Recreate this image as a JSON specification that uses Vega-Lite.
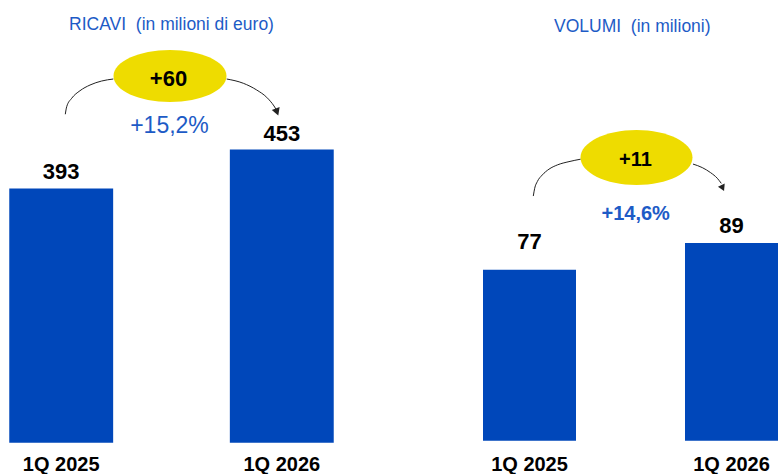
{
  "$schema": "https://vega.github.io/schema/vega-lite/v6.json",
  "padding": 0,
  "background": "white",
  "config": {"view": {"stroke": null}, "font": "Liberation Sans"},
  "datasets": {
    "ricavi": [
      {"period": "1Q 2025", "value": 393},
      {"period": "1Q 2026", "value": 453}
    ],
    "volumi": [
      {"period": "1Q 2025", "value": 77},
      {"period": "1Q 2026", "value": 89}
    ],
    "ricavi_arc": [
      {"seg": "a", "u": 0.0186, "v": 507.6},
      {"seg": "a", "u": 0.0249, "v": 519.3},
      {"seg": "a", "u": 0.0476, "v": 532.3},
      {"seg": "a", "u": 0.0852, "v": 544.0},
      {"seg": "a", "u": 0.1306, "v": 552.8},
      {"seg": "a", "u": 0.1836, "v": 559.0},
      {"seg": "a", "u": 0.2362, "v": 562.1},
      {"seg": "b", "u": 0.7502, "v": 562.1},
      {"seg": "b", "u": 0.8255, "v": 555.5},
      {"seg": "b", "u": 0.8862, "v": 545.1},
      {"seg": "b", "u": 0.9315, "v": 533.8},
      {"seg": "b", "u": 0.9646, "v": 520.4},
      {"seg": "b", "u": 0.9760, "v": 514.2}
    ],
    "volumi_arc": [
      {"seg": "a", "u": 0.0188, "v": 110.2},
      {"seg": "a", "u": 0.0257, "v": 113.7},
      {"seg": "a", "u": 0.0386, "v": 116.7},
      {"seg": "a", "u": 0.0634, "v": 119.7},
      {"seg": "a", "u": 0.0965, "v": 122.3},
      {"seg": "a", "u": 0.1376, "v": 124.2},
      {"seg": "a", "u": 0.1955, "v": 125.7},
      {"seg": "a", "u": 0.2535, "v": 126.8},
      {"seg": "b", "u": 0.8094, "v": 124.6},
      {"seg": "b", "u": 0.8554, "v": 123.0},
      {"seg": "b", "u": 0.8970, "v": 120.7},
      {"seg": "b", "u": 0.9297, "v": 118.2},
      {"seg": "b", "u": 0.9495, "v": 115.9}
    ]
  },
  "spacing": 140,
  "hconcat": [
    {
      "width": 343,
      "height": 474,
      "resolve": {"scale": {"x": "independent"}},
      "layer": [
        {
          "data": {"name": "ricavi"},
          "encoding": {
            "x": {"field": "period", "type": "nominal", "axis": null, "scale": {"paddingInner": 0.529, "paddingOuter": 0.042}},
            "y": {"field": "value", "type": "quantitative", "axis": null, "scale": {"domain": [-48.4, 684.2], "nice": false, "zero": false}}
          },
          "layer": [
            {"mark": {"type": "bar", "color": "#0047BA"}},
            {"mark": {"type": "text", "dy": -9, "baseline": "alphabetic", "align": "center", "fontSize": 22, "fontWeight": "bold", "color": "#000000"},
             "encoding": {"text": {"field": "value", "type": "quantitative"}}},
            {"mark": {"type": "text", "dy": 28.3, "baseline": "alphabetic", "align": "center", "fontSize": 20, "fontWeight": "bold", "color": "#000000", "clip": true},
             "encoding": {"y": {"datum": 0, "type": "quantitative", "scale": {"domain": [-48.4, 684.2], "nice": false, "zero": false}}, "text": {"field": "period", "type": "nominal"}}}
          ]
        },
        {
          "layer": [
            {
              "data": {"name": "ricavi_arc"},
              "mark": {"type": "line", "interpolate": "monotone", "color": "#222222", "strokeWidth": 1},
              "encoding": {
                "x": {"field": "u", "type": "quantitative", "axis": null, "scale": {"domain": [-0.2774, 1.2774], "nice": false, "zero": false}},
                "y": {"field": "v", "type": "quantitative", "axis": null, "scale": {"domain": [-48.4, 684.2], "nice": false, "zero": false}},
                "detail": {"field": "seg", "type": "nominal"}
              }
            },
            {
              "data": {"values": [{"u": 0.9782, "v": 511.1}]},
              "mark": {"type": "point", "shape": "triangle-down", "filled": true, "color": "#222222", "opacity": 1, "size": 70, "angle": -21},
              "encoding": {
                "x": {"field": "u", "type": "quantitative", "axis": null, "scale": {"domain": [-0.2774, 1.2774], "nice": false, "zero": false}},
                "y": {"field": "v", "type": "quantitative", "axis": null, "scale": {"domain": [-48.4, 684.2], "nice": false, "zero": false}}
              }
            },
            {
              "data": {"values": [{"u": 0.4932, "v": 566.8}]},
              "mark": {"type": "point", "shape": "M-1,0C-1,-0.254,-0.552,-0.46,0,-0.46C0.552,-0.46,1,-0.254,1,0C1,0.254,0.552,0.46,0,0.46C-0.552,0.46,-1,0.254,-1,0Z", "filled": true, "color": "#EEDC00", "opacity": 1, "size": 12769, "strokeWidth": 0},
              "encoding": {
                "x": {"field": "u", "type": "quantitative", "axis": null, "scale": {"domain": [-0.2774, 1.2774], "nice": false, "zero": false}},
                "y": {"field": "v", "type": "quantitative", "axis": null, "scale": {"domain": [-48.4, 684.2], "nice": false, "zero": false}}
              }
            },
            {
              "data": {"values": [{"u": 0.4864, "v": 551.3, "label": "+60"}]},
              "mark": {"type": "text", "baseline": "alphabetic", "align": "center", "fontSize": 22, "fontWeight": "bold", "color": "#000000"},
              "encoding": {
                "x": {"field": "u", "type": "quantitative", "axis": null, "scale": {"domain": [-0.2774, 1.2774], "nice": false, "zero": false}},
                "y": {"field": "v", "type": "quantitative", "axis": null, "scale": {"domain": [-48.4, 684.2], "nice": false, "zero": false}},
                "text": {"field": "label", "type": "nominal"}
              }
            },
            {
              "data": {"values": [{"u": 0.4909, "v": 479.4, "label": "+15,2%"}]},
              "mark": {"type": "text", "baseline": "alphabetic", "align": "center", "fontSize": 23, "fontWeight": "normal", "color": "#1D5BC6"},
              "encoding": {
                "x": {"field": "u", "type": "quantitative", "axis": null, "scale": {"domain": [-0.2774, 1.2774], "nice": false, "zero": false}},
                "y": {"field": "v", "type": "quantitative", "axis": null, "scale": {"domain": [-48.4, 684.2], "nice": false, "zero": false}},
                "text": {"field": "label", "type": "nominal"}
              }
            },
            {
              "data": {"values": [{"u": 0.5, "v": 637.9, "label": "RICAVI\u00a0 (in milioni di euro)"}]},
              "mark": {"type": "text", "baseline": "alphabetic", "align": "center", "fontSize": 17.5, "fontWeight": "normal", "color": "#1D5BC6"},
              "encoding": {
                "x": {"field": "u", "type": "quantitative", "axis": null, "scale": {"domain": [-0.2774, 1.2774], "nice": false, "zero": false}},
                "y": {"field": "v", "type": "quantitative", "axis": null, "scale": {"domain": [-48.4, 684.2], "nice": false, "zero": false}},
                "text": {"field": "label", "type": "nominal"}
              }
            }
          ]
        }
      ]
    },
    {
      "width": 295,
      "height": 474,
      "resolve": {"scale": {"x": "independent"}},
      "layer": [
        {
          "data": {"name": "volumi"},
          "encoding": {
            "x": {"field": "period", "type": "nominal", "axis": null, "scale": {"paddingInner": 0.5396, "paddingOuter": 0}},
            "y": {"field": "value", "type": "quantitative", "axis": null, "scale": {"domain": [-15.0, 198.5], "nice": false, "zero": false}}
          },
          "layer": [
            {"mark": {"type": "bar", "color": "#0047BA"}},
            {"transform": [{"filter": "datum.period == '1Q 2025'"}],
             "mark": {"type": "text", "dy": -21, "baseline": "alphabetic", "align": "center", "fontSize": 22, "fontWeight": "bold", "color": "#000000"},
             "encoding": {"text": {"field": "value", "type": "quantitative"}}},
            {"transform": [{"filter": "datum.period == '1Q 2026'"}],
             "mark": {"type": "text", "dy": -10, "baseline": "alphabetic", "align": "center", "fontSize": 22, "fontWeight": "bold", "color": "#000000"},
             "encoding": {"text": {"field": "value", "type": "quantitative"}}},
            {"mark": {"type": "text", "dy": 30.3, "baseline": "alphabetic", "align": "center", "fontSize": 20, "fontWeight": "bold", "color": "#000000", "clip": true},
             "encoding": {"y": {"datum": 0, "type": "quantitative", "scale": {"domain": [-15.0, 198.5], "nice": false, "zero": false}}, "text": {"field": "period", "type": "nominal"}}}
          ]
        },
        {
          "layer": [
            {
              "data": {"name": "volumi_arc"},
              "mark": {"type": "line", "interpolate": "monotone", "color": "#222222", "strokeWidth": 1},
              "encoding": {
                "x": {"field": "u", "type": "quantitative", "axis": null, "scale": {"domain": [-0.2302, 1.2302], "nice": false, "zero": false}},
                "y": {"field": "v", "type": "quantitative", "axis": null, "scale": {"domain": [-15.0, 198.5], "nice": false, "zero": false}},
                "detail": {"field": "seg", "type": "nominal"}
              }
            },
            {
              "data": {"values": [{"u": 0.9564, "v": 113.8}]},
              "mark": {"type": "point", "shape": "triangle-down", "filled": true, "color": "#222222", "opacity": 1, "size": 55, "angle": -25},
              "encoding": {
                "x": {"field": "u", "type": "quantitative", "axis": null, "scale": {"domain": [-0.2302, 1.2302], "nice": false, "zero": false}},
                "y": {"field": "v", "type": "quantitative", "axis": null, "scale": {"domain": [-15.0, 198.5], "nice": false, "zero": false}}
              }
            },
            {
              "data": {"values": [{"u": 0.5297, "v": 127.6}]},
              "mark": {"type": "point", "shape": "M-1,0C-1,-0.271,-0.552,-0.491,0,-0.491C0.552,-0.491,1,-0.271,1,0C1,0.271,0.552,0.491,0,0.491C-0.552,0.491,-1,0.271,-1,0Z", "filled": true, "color": "#EEDC00", "opacity": 1, "size": 12544, "strokeWidth": 0},
              "encoding": {
                "x": {"field": "u", "type": "quantitative", "axis": null, "scale": {"domain": [-0.2302, 1.2302], "nice": false, "zero": false}},
                "y": {"field": "v", "type": "quantitative", "axis": null, "scale": {"domain": [-15.0, 198.5], "nice": false, "zero": false}}
              }
            },
            {
              "data": {"values": [{"u": 0.5248, "v": 123.7, "label": "+11"}]},
              "mark": {"type": "text", "baseline": "alphabetic", "align": "center", "fontSize": 20, "fontWeight": "bold", "color": "#000000"},
              "encoding": {
                "x": {"field": "u", "type": "quantitative", "axis": null, "scale": {"domain": [-0.2302, 1.2302], "nice": false, "zero": false}},
                "y": {"field": "v", "type": "quantitative", "axis": null, "scale": {"domain": [-15.0, 198.5], "nice": false, "zero": false}},
                "text": {"field": "label", "type": "nominal"}
              }
            },
            {
              "data": {"values": [{"u": 0.5257, "v": 99.4, "label": "+14,6%"}]},
              "mark": {"type": "text", "baseline": "alphabetic", "align": "center", "fontSize": 20, "fontWeight": "bold", "color": "#1D5BC6"},
              "encoding": {
                "x": {"field": "u", "type": "quantitative", "axis": null, "scale": {"domain": [-0.2302, 1.2302], "nice": false, "zero": false}},
                "y": {"field": "v", "type": "quantitative", "axis": null, "scale": {"domain": [-15.0, 198.5], "nice": false, "zero": false}},
                "text": {"field": "label", "type": "nominal"}
              }
            },
            {
              "data": {"values": [{"u": 0.5089, "v": 183.9, "label": "VOLUMI\u00a0 (in milioni)"}]},
              "mark": {"type": "text", "baseline": "alphabetic", "align": "center", "fontSize": 17.5, "fontWeight": "normal", "color": "#1D5BC6"},
              "encoding": {
                "x": {"field": "u", "type": "quantitative", "axis": null, "scale": {"domain": [-0.2302, 1.2302], "nice": false, "zero": false}},
                "y": {"field": "v", "type": "quantitative", "axis": null, "scale": {"domain": [-15.0, 198.5], "nice": false, "zero": false}},
                "text": {"field": "label", "type": "nominal"}
              }
            }
          ]
        }
      ]
    }
  ]
}
